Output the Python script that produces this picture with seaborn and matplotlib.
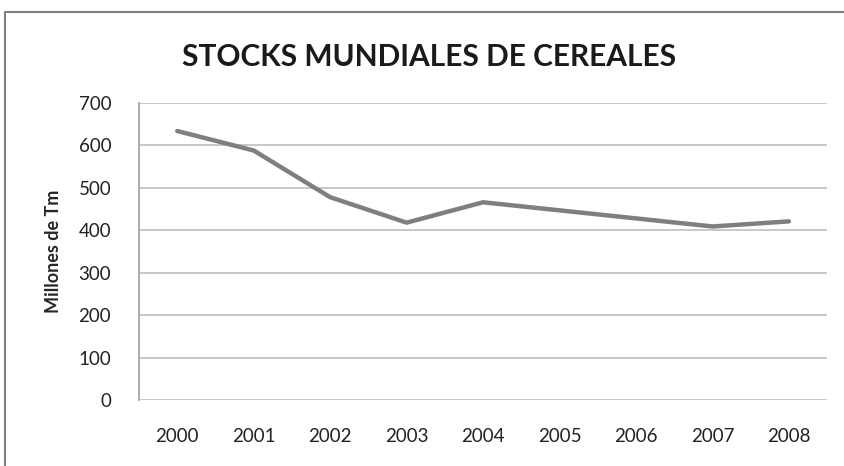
# Stocks mundiales de cereales 2000-2008
import pandas as pd
import matplotlib.pyplot as plt
import seaborn as sns
from matplotlib.patches import Rectangle

years = [2000, 2001, 2002, 2003, 2004, 2005, 2006, 2007, 2008]
stocks = [634, 588, 478, 418, 466, 447, 428, 409, 421]
yticks = [0, 100, 200, 300, 400, 500, 600, 700]

df = pd.DataFrame({"year": years, "stocks": stocks})

sns.set_style("white")
plt.rcParams["font.family"] = ["Lato", "DejaVu Sans"]

fig = plt.figure(figsize=(8.44, 4.66), dpi=100)
ax = fig.add_axes([0.1647, 0.1416, 0.8153, 0.6374])

sns.lineplot(data=df, x="year", y="stocks", ax=ax, color="#7f7f7f", linewidth=3.2)

ax.set_xlim(1999.5, 2008.5)
ax.set_ylim(0, 700)
ax.set_yticks(yticks)
ax.set_xticks(years)
ax.set_xticklabels([str(y) for y in years])
ax.grid(axis="y", color="#c4c4c4", linewidth=1.3)
ax.set_axisbelow(True)
for side in ["top", "right", "bottom"]:
    ax.spines[side].set_visible(False)
ax.spines["left"].set_color("#a6a6a6")
ax.spines["left"].set_linewidth(1.3)
ax.tick_params(axis="both", length=0, labelsize=13.5, colors="#222222")
ax.tick_params(axis="y", pad=20)
ax.tick_params(axis="x", pad=20)
ax.set_xlabel("")
ax.set_ylabel("Millones de Tm", fontsize=13, fontweight="bold", labelpad=12)

fig.text(0.508, 0.878, "STOCKS MUNDIALES DE CEREALES", ha="center", va="center",
         fontsize=21.5, fontweight="bold", color="#1a1a1a")

# outer chart frame (only left and top visible in the crop)
fig.patches.append(Rectangle((0.006, -0.1), 1.1, 1.074, transform=fig.transFigure,
                             fill=False, edgecolor="#808080", linewidth=1.5))

plt.savefig("out.png", dpi=100)
